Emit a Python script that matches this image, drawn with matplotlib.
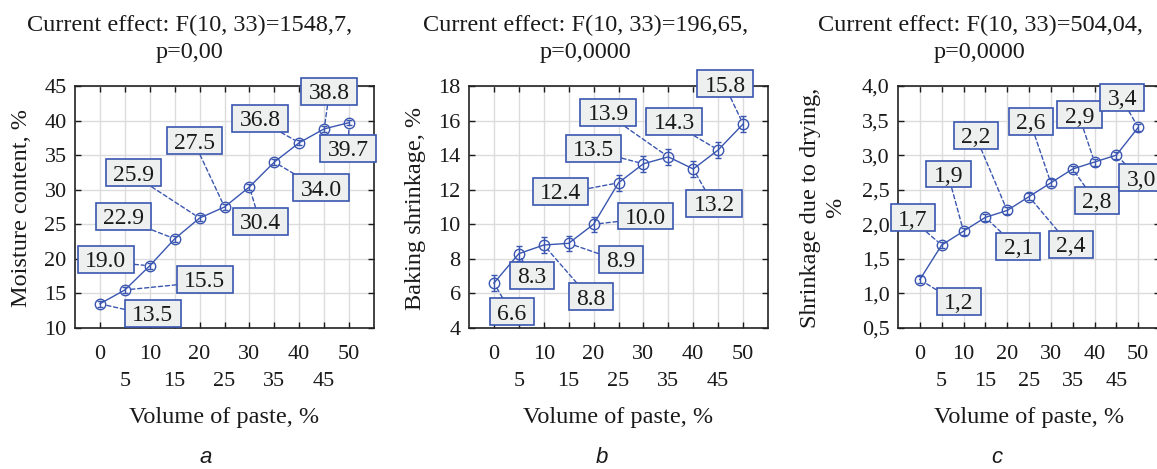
import matplotlib.pyplot as plt
from matplotlib.path import Path
from matplotlib.ticker import FuncFormatter

plt.rcParams['font.family'] = 'Liberation Serif'

# volume of paste, %
paste = [0, 5, 10, 15, 20, 25, 30, 35, 40, 45, 50]

moisture = [13.5, 15.5, 19.0, 22.9, 25.9, 27.5, 30.4, 34.0, 36.8, 38.8, 39.7]
moisture_err = [0.4, 0.4, 0.4, 0.4, 0.4, 0.4, 0.4, 0.4, 0.4, 0.4, 0.4]

baking = [6.6, 8.3, 8.8, 8.9, 10.0, 12.4, 13.5, 13.9, 13.2, 14.3, 15.8]
baking_err = [0.45, 0.45, 0.45, 0.45, 0.45, 0.45, 0.45, 0.45, 0.45, 0.45, 0.45]

drying = [1.2, 1.7, 1.9, 2.1, 2.2, 2.4, 2.6, 2.8, 2.9, 3.0, 3.4]
drying_err = [0.05, 0.05, 0.05, 0.05, 0.05, 0.05, 0.05, 0.05, 0.05, 0.05, 0.05]

titles = ["Current effect: F(10, 33)=1548,7,", "Current effect: F(10, 33)=196,65,",
          "Current effect: F(10, 33)=504,04,"]
p_values = ["p=0,00", "p=0,0000", "p=0,0000"]
ylabels = ["Moisture content, %", "Baking shrinkage, %", "Shrinkage due to drying,\n%"]
letters = ["a", "b", "c"]

# where each value box sits relative to its point, in pixels
moisture_offsets = [(53, -10), (80, 10), (-44, 6), (-51, 22), (-66, 45), (-30, 66),
                    (11, -35), (47, -26), (-39, 24), (5, 37), (-1, -26)]
baking_offsets = [(18, -29), (13, -22), (47, -52), (52, -16), (52, 8), (-58, -9),
                  (-50, 15), (-60, 44), (21, -35), (-44, 28), (-18, 40)]
drying_offsets = [(39, -22), (-29, 27), (-15, 57), (33, -29), (-31, 75), (42, -48),
                  (-20, 61), (24, -32), (-15, 47), (25, -23), (-16, 30)]

BLUE = '#3a56b0'
INK = '#1a1a1a'
W, H = 1157, 469


def px_rect(left, top, right, bottom):
    return [left / W, 1 - bottom / H, (right - left) / W, (bottom - top) / H]


def label_box(x0, y0, width, height, mutation_size):
    # wide sideways, a little more room above the digits than below
    dx = 0.31 * mutation_size
    x0, x1 = x0 - dx, x0 + width + dx
    y1 = y0 + height + 0.22 * mutation_size
    y0 = y0 - 0.03 * mutation_size
    return Path([(x0, y0), (x1, y0), (x1, y1), (x0, y1), (x0, y0)], closed=True)


def comma(v, pos=None):
    return f"{v:.1f}".replace('.', ',')


def draw_panel(ax, y, err, offsets, ylim, ystep, fmt, decimal_comma=False):
    ax.errorbar(paste, y, yerr=err, color=BLUE, lw=1, marker='o', ms=7.5,
                mfc='none', mec=BLUE, mew=1, capsize=2, elinewidth=1,
                capthick=1, zorder=3)
    for xv, yv, (dx, dy) in zip(paste, y, offsets):
        ax.annotate(fmt(yv), (xv, yv), xytext=(dx, dy - 2), textcoords='offset pixels',
                    ha='center', va='center', fontsize=17, color=INK,
                    bbox=dict(boxstyle=label_box, fc='#eeefef', ec=BLUE, lw=1.2),
                    arrowprops=dict(arrowstyle='-', color=BLUE, lw=1,
                                    linestyle=(0, (3, 2)), shrinkA=0, shrinkB=4),
                    zorder=4)
    ax.set_xlim(-5, 55)
    ax.set_ylim(*ylim)
    ax.set_xticks([0, 10, 20, 30, 40, 50])
    ax.set_xticks([5, 15, 25, 35, 45], minor=True)
    ax.set_xticklabels(['5', '15', '25', '35', '45'], minor=True)
    n = int(round((ylim[1] - ylim[0]) / ystep))
    ax.set_yticks([ylim[0] + i * ystep for i in range(n + 1)])
    if decimal_comma:
        ax.yaxis.set_major_formatter(FuncFormatter(comma))
    ax.grid(True, which='both', color='#dcdcdc', lw=1)
    ax.set_axisbelow(True)
    ax.tick_params(which='both', direction='in', top=True, right=True,
                   length=4, width=1, labelsize=16, colors=INK)
    ax.tick_params(axis='x', which='major', pad=12)
    ax.tick_params(axis='x', which='minor', pad=32)
    ax.tick_params(axis='y', pad=6)
    for s in ax.spines.values():
        s.set_linewidth(1.2)
        s.set_color('#222222')


fig = plt.figure(figsize=(W / 100, H / 100), dpi=100)

ax_a = fig.add_axes(px_rect(75, 86, 374, 328))
ax_b = fig.add_axes(px_rect(469, 86, 768, 328))
ax_c = fig.add_axes(px_rect(898, 86, 1160, 328))

draw_panel(ax_a, moisture, moisture_err, moisture_offsets, (10, 45), 5,
           lambda v: f"{v:.1f}")
draw_panel(ax_b, baking, baking_err, baking_offsets, (4, 18), 2,
           lambda v: f"{v:.1f}")
draw_panel(ax_c, drying, drying_err, drying_offsets, (0.5, 4.0), 0.5,
           comma, decimal_comma=True)

title_x = [190, 586, 980]
ylabel_x = [22, 416, 823]
xlabel_x = [224, 618, 1029]
letter_x = [206, 602, 997]

for i in range(3):
    fig.text(title_x[i] / W, 1 - 31 / H, titles[i], ha='center', va='baseline',
             fontsize=17.5, color=INK)
    fig.text(title_x[i] / W, 1 - 58 / H, p_values[i], ha='center', va='baseline',
             fontsize=17.5, color=INK)
    fig.text(ylabel_x[i] / W, 1 - 208 / H, ylabels[i], ha='center', va='center',
             rotation=90, fontsize=17.5, color=INK, linespacing=1.3)
    fig.text(xlabel_x[i] / W, 1 - 423 / H, "Volume of paste, %", ha='center',
             va='baseline', fontsize=17.5, color=INK)
    fig.text(letter_x[i] / W, 0.002, letters[i], ha='center', va='bottom',
             fontsize=16, style='italic', family='Liberation Sans', color=INK)

fig.savefig('out.png', dpi=100)
